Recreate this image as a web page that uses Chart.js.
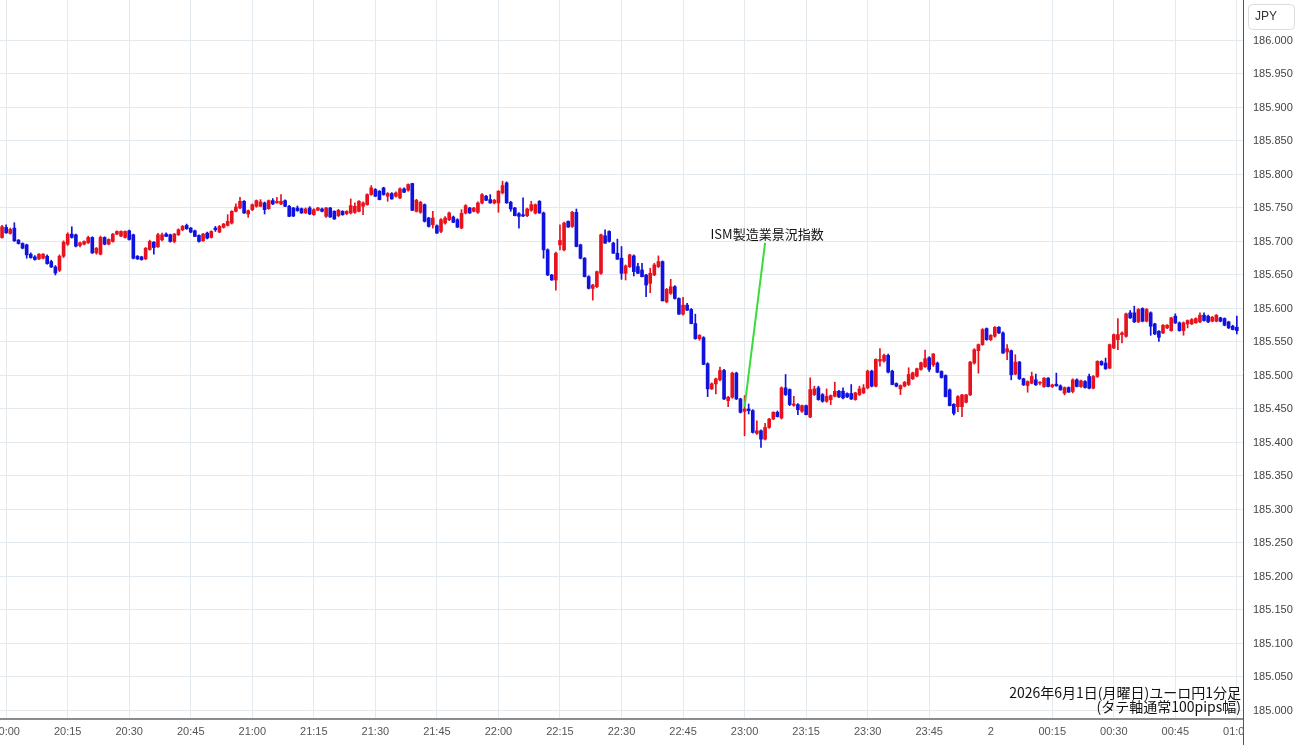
<!DOCTYPE html>
<html><head><meta charset="utf-8">
<script src="https://cdn.jsdelivr.net/npm/chart.js@4.4.1/dist/chart.umd.min.js"></script>
<style>html,body{margin:0;padding:0;background:#fff;overflow:hidden}canvas{display:block}</style>
</head><body>
<canvas id="c" width="1300" height="745"></canvas>
<script>
// ---- categories: 1-minute bars from 19:59 to 01:00 (+1 empty slot) ----
const firstMinute = 19 * 60 + 59;
const slotCount = 303;
const timeLabels = [];
for (let k = 0; k < slotCount; k++) {
  const m = (firstMinute + k) % 1440;
  timeLabels.push(String(Math.floor(m / 60)).padStart(2, '0') + ':' + String(m % 60).padStart(2, '0'));
}

// ---- OHLC series (EUR/JPY) ----
const openP = [
185.706,
185.721,185.712,185.720,185.702,185.697,185.695,185.681,185.677,185.674,185.675,
185.678,185.670,185.662,185.657,185.678,185.696,185.711,185.710,185.694,185.696,
185.698,185.706,185.683,185.681,185.706,185.696,185.700,185.711,185.708,185.706,
185.716,185.710,185.678,185.677,185.674,185.688,185.699,185.692,185.7025,185.711,
185.710,185.700,185.710,185.7175,185.724,185.720,185.716,185.709,185.701,185.7125,
185.706,185.720,185.714,185.721,185.724,185.7275,185.745,185.750,185.760,185.741,
185.7475,185.7525,185.7525,185.7575,185.749,185.761,185.7575,185.756,185.761,185.7525,
185.750,185.750,185.749,185.7425,185.750,185.740,185.7465,185.7485,185.7375,185.750,
185.745,185.7385,185.745,185.7415,185.7425,185.7435,185.745,185.7525,185.755,185.770,
185.7775,185.775,185.780,185.7675,185.7715,185.7675,185.765,185.7785,185.7765,185.7865,
185.745,185.7435,185.755,185.735,185.725,185.7235,185.715,185.7275,185.7325,185.7365,
185.7325,185.720,185.7425,185.750,185.745,185.7435,185.7575,185.7675,185.7625,185.7575,
185.7575,185.7725,185.7875,185.7585,185.750,185.7415,185.740,185.7385,185.7465,185.7425,
185.760,185.7425,185.6875,185.650,185.6425,185.695,185.6875,185.730,185.7225,185.7435,
185.695,185.675,185.6475,185.630,185.6325,185.6525,185.7085,185.715,185.6975,185.6825,
185.675,185.6525,185.6625,185.6785,185.6625,185.6575,185.650,185.6375,185.650,185.6625,
185.670,185.610,185.6225,185.6325,185.615,185.5915,185.605,185.5985,185.5775,185.555,
185.5565,185.5175,185.480,185.4875,185.4935,185.5075,185.4625,185.4675,185.5035,185.465,
185.4465,185.450,185.4475,185.4135,185.4175,185.405,185.4225,185.435,185.445,185.4365,
185.4815,185.479,185.4555,185.4565,185.4465,185.455,185.438,185.4715,185.4815,185.4715,
185.4615,185.464,185.469,185.4765,185.4765,185.473,185.473,185.464,185.4715,185.474,
185.4815,185.5065,185.484,185.5215,185.5215,185.530,185.5065,185.488,185.480,185.484,
185.4865,185.495,185.499,185.509,185.513,185.5265,185.516,185.5185,185.506,185.500,
185.4785,185.457,185.4535,185.4535,185.460,185.471,185.5185,185.537,185.546,185.570,
185.5535,185.5585,185.572,185.5635,185.535,185.537,185.502,185.520,185.495,185.485,
185.4885,185.4935,185.4885,185.4835,185.496,185.4835,185.487,185.4845,185.4735,185.482,
185.476,185.4935,185.4835,185.491,185.4985,185.481,185.4985,185.521,185.5185,185.511,
185.541,185.5535,185.561,185.5585,185.5935,185.5935,185.580,185.600,185.581,185.5935,
185.577,185.566,185.5635,185.571,185.567,185.5885,185.5785,185.567,185.577,185.577,
185.5785,185.580,185.590,185.5885,185.581,185.581,185.586,185.585,185.580,185.5735,
185.572
];
const highP = [
185.724,
185.725,185.720,185.728,185.703,185.698,185.696,185.683,185.679,185.682,185.682,
185.680,185.672,185.664,185.680,185.701,185.713,185.722,185.711,185.699,185.701,
185.708,185.707,185.691,185.708,185.707,185.704,185.712,185.716,185.716,185.716,
185.717,185.711,185.679,185.678,185.691,185.702,185.700,185.712,185.7125,185.713,
185.711,185.712,185.719,185.724,185.726,185.721,185.717,185.710,185.712,185.714,
185.716,185.7225,185.724,185.727,185.740,185.746,185.756,185.766,185.761,185.747,
185.756,185.762,185.7625,185.759,185.762,185.764,185.766,185.770,185.762,185.754,
185.751,185.753,185.750,185.750,185.752,185.749,185.751,185.750,185.751,185.751,
185.746,185.748,185.746,185.746,185.7635,185.7575,185.761,185.759,185.771,185.7835,
185.779,185.776,185.781,185.773,185.773,185.774,185.780,185.780,185.786,185.787,
185.763,185.760,185.756,185.736,185.745,185.725,185.734,185.737,185.744,185.738,
185.734,185.7475,185.755,185.751,185.751,185.759,185.7715,185.769,185.770,185.763,
185.776,185.790,185.789,185.760,185.751,185.743,185.765,185.750,185.760,185.756,
185.761,185.744,185.689,185.651,185.684,185.725,185.729,185.731,185.745,185.7485,
185.696,185.676,185.649,185.636,185.656,185.711,185.7175,185.716,185.699,185.7035,
185.6925,185.665,185.681,185.680,185.6675,185.6675,185.651,185.660,185.6675,185.6785,
185.671,185.630,185.6435,185.634,185.616,185.6165,185.6075,185.600,185.5915,185.561,
185.558,185.519,185.489,185.496,185.5125,185.509,185.469,185.505,185.505,185.466,
185.470,185.4575,185.449,185.4325,185.419,185.4285,185.436,185.446,185.447,185.483,
185.5015,185.480,185.469,185.458,185.456,185.456,185.4965,185.484,185.484,185.473,
185.480,185.471,185.490,185.478,185.4815,185.474,185.4865,185.475,185.484,185.4865,
185.508,185.508,185.525,185.540,185.532,185.532,185.508,185.489,185.486,185.491,
185.5115,185.505,185.511,185.520,185.538,185.528,185.533,185.520,185.507,185.501,
185.480,185.458,185.470,185.472,185.472,185.521,185.540,185.547,185.570,185.571,
185.561,185.573,185.573,185.565,185.546,185.538,185.531,185.521,185.496,185.492,
185.505,185.502,185.491,185.497,185.497,185.487,185.5035,185.486,185.483,185.483,
185.495,185.495,185.493,185.4925,185.502,185.500,185.522,185.522,185.526,185.547,
185.562,185.585,185.565,185.593,185.597,185.6035,185.600,185.601,185.600,185.595,
185.578,185.567,185.576,185.576,185.587,185.592,185.580,185.580,185.583,185.585,
185.586,185.5935,185.5935,185.590,185.588,185.591,185.587,185.586,185.581,185.575,
185.5885
];
const lowP = [
185.705,
185.712,185.711,185.700,185.696,185.689,185.675,185.675,185.672,185.673,185.674,
185.666,185.661,185.650,185.655,185.676,185.694,185.705,185.692,185.692,185.695,
185.697,185.682,185.681,185.680,185.695,185.695,185.699,185.710,185.707,185.705,
185.702,185.674,185.673,185.672,185.673,185.687,185.681,185.691,185.701,185.707,
185.699,185.698,185.709,185.716,185.718,185.713,185.707,185.699,185.700,185.704,
185.705,185.715,185.713,185.720,185.723,185.726,185.744,185.749,185.742,185.736,
185.746,185.751,185.752,185.741,185.748,185.755,185.757,185.755,185.752,185.737,
185.737,185.745,185.742,185.742,185.740,185.739,185.746,185.744,185.736,185.736,
185.733,185.737,185.739,185.740,185.741,185.742,185.744,185.740,185.754,185.769,
185.767,185.762,185.769,185.760,185.763,185.766,185.764,185.773,185.775,185.746,
185.744,185.742,185.729,185.7215,185.720,185.712,185.713,185.726,185.731,185.728,
185.7205,185.719,185.741,185.742,185.744,185.742,185.756,185.761,185.757,185.756,
185.7435,185.771,185.757,185.745,185.738,185.720,185.737,185.737,185.745,185.741,
185.742,185.675,185.649,185.642,185.6275,185.6875,185.686,185.721,185.721,185.692,
185.674,185.647,185.629,185.6125,185.631,185.651,185.697,185.699,185.682,185.673,
185.6435,185.6425,185.661,185.6485,185.652,185.647,185.6175,185.6235,185.649,185.661,
185.611,185.6085,185.621,185.614,185.591,185.590,185.597,185.577,185.554,185.5525,
185.516,185.4685,185.479,185.4725,185.492,185.464,185.4535,185.466,185.464,185.444,
185.410,185.4425,185.414,185.412,185.3925,185.404,185.421,185.434,185.438,185.435,
185.470,185.455,185.454,185.4415,185.445,185.441,185.437,185.470,185.463,185.460,
185.460,185.4565,185.468,185.467,185.465,185.467,185.464,185.463,185.470,185.473,
185.480,185.483,185.483,185.514,185.520,185.504,185.486,185.483,185.4715,185.483,
185.485,185.494,185.498,185.508,185.512,185.506,185.5135,185.504,185.496,185.468,
185.4545,185.441,185.446,185.4385,185.459,185.470,185.517,185.5035,185.545,185.5525,
185.552,185.557,185.5625,185.533,185.5235,185.4935,185.501,185.494,185.485,185.475,
185.4875,185.485,185.486,185.482,185.483,185.482,185.484,185.478,185.471,185.475,
185.474,185.483,185.482,185.481,185.480,185.480,185.497,185.515,185.509,185.510,
185.540,185.5385,185.5485,185.557,185.585,185.579,185.579,185.580,185.580,185.560,
185.561,185.551,185.5625,185.570,185.566,185.5775,185.566,185.560,185.571,185.576,
185.578,185.579,185.581,185.579,185.580,185.580,185.580,185.574,185.570,185.568,
185.562
];
const closeP = [
185.722,
185.713,185.718,185.701,185.697,185.690,185.680,185.676,185.673,185.681,185.681,
185.667,185.662,185.653,185.678,185.699,185.711,185.706,185.693,185.698,185.700,
185.706,185.683,185.690,185.706,185.696,185.703,185.711,185.715,185.715,185.715,
185.703,185.675,185.674,185.673,185.690,185.700,185.691,185.710,185.710,185.7075,
185.700,185.711,185.7175,185.7225,185.719,185.714,185.7075,185.700,185.711,185.705,
185.715,185.7175,185.7225,185.726,185.730,185.745,185.7515,185.760,185.7425,185.746,
185.755,185.761,185.759,185.7475,185.761,185.756,185.760,185.760,185.7525,185.7375,
185.738,185.746,185.7425,185.7485,185.741,185.7475,185.750,185.745,185.750,185.7365,
185.7335,185.7465,185.740,185.745,185.7535,185.7525,185.760,185.7575,185.770,185.780,
185.7675,185.7625,185.770,185.7715,185.7635,185.7725,185.7785,185.7735,185.785,185.7465,
185.7615,185.7585,185.730,185.7225,185.735,185.7125,185.7325,185.735,185.7425,185.7285,
185.7215,185.742,185.7535,185.7425,185.750,185.7575,185.770,185.7615,185.7575,185.7615,
185.775,185.7835,185.7575,185.7485,185.7385,185.7375,185.738,185.7485,185.755,185.755,
185.7425,185.6875,185.650,185.6425,185.6825,185.7015,185.7275,185.7215,185.7435,185.6925,
185.675,185.6475,185.630,185.635,185.655,185.710,185.6975,185.700,185.6825,185.6735,
185.6525,185.6635,185.680,185.655,185.6525,185.6475,185.635,185.6525,185.665,185.670,
185.6115,185.6285,185.6325,185.615,185.5915,185.605,185.5975,185.5775,185.555,185.560,
185.5165,185.480,185.4875,185.495,185.5075,185.465,185.4675,185.5035,185.465,185.445,
185.450,185.4475,185.415,185.4175,185.405,185.4225,185.435,185.445,185.4385,185.4815,
185.4715,185.4565,185.4575,185.449,185.455,185.4415,185.479,185.480,185.464,185.4615,
185.469,185.470,185.4765,185.468,185.4665,185.468,185.465,185.474,185.480,185.4815,
185.5065,185.484,185.524,185.524,185.530,185.505,185.4865,185.484,185.485,185.490,
185.5015,185.504,185.510,185.519,185.525,185.509,185.532,185.505,185.497,185.4685,
185.455,185.4435,185.4685,185.471,185.471,185.520,185.5385,185.546,185.5685,185.5535,
185.560,185.572,185.5635,185.5335,185.540,185.501,185.520,185.495,185.486,185.491,
185.4985,185.486,185.489,185.496,185.4835,185.486,185.4845,185.4785,185.482,185.475,
185.4935,185.4835,185.492,185.482,185.481,185.4985,185.521,185.516,185.510,185.546,
185.561,185.561,185.5635,185.592,185.586,185.580,185.5985,185.581,185.5985,185.5735,
185.562,185.557,185.575,185.575,185.586,185.5785,185.567,185.5785,185.582,185.5835,
185.585,185.590,185.582,185.580,185.587,185.590,185.581,185.575,185.571,185.5685,
185.567
];

// ---- axis ticks ----
const yTickValues = [186.000,185.950,185.900,185.850,185.800,185.750,185.700,185.650,185.600,185.550,
  185.500,185.450,185.400,185.350,185.300,185.250,185.200,185.150,185.100,185.050,185.000];
const yMin = 184.9873, yMax = 186.0604;
const dayChangeLabel = { '00:00': '2' };

// ---- annotation ----
const annoText = 'ISM製造業景況指数';
const annoTimes = ['23:00', '23:05'];
const annoPrices = [185.453, 185.698];
const noteLines = ['2026年6月1日(月曜日)ユーロ円1分足', '(タテ軸通常100pips幅)'];
const unitLabel = 'JPY';

const UP = '#e8121c', DOWN = '#1212de', GRID = '#e2e9ef';
const candleColor = c => (closeP[c.dataIndex] >= openP[c.dataIndex] ? UP : DOWN);
const isQuarter = lbl => lbl && parseInt(lbl.slice(3), 10) % 15 === 0;

if (openP.length !== highP.length || openP.length !== lowP.length || openP.length !== closeP.length)
  console.error('length mismatch', openP.length, highP.length, lowP.length, closeP.length);

const bodies = openP.map((o, i) => [o, closeP[i]]);
const wicks = lowP.map((l, i) => [l, highP[i]]);

const decor = {
  id: 'decor',
  afterDraw(chart) {
    const ctx = chart.ctx, ca = chart.chartArea, xs = chart.scales.x, ys = chart.scales.y;
    ctx.save();
    ctx.fillStyle = '#fff';
    ctx.fillRect(ca.right + 1, ca.bottom + 1, chart.width - ca.right, chart.height - ca.bottom);
    ctx.strokeStyle = '#555'; ctx.lineWidth = 1;
    ctx.beginPath(); ctx.moveTo(Math.round(ca.right) + 0.5, 0); ctx.lineTo(Math.round(ca.right) + 0.5, chart.height); ctx.stroke();
    // unit box
    ctx.strokeStyle = '#dcdcdc';
    ctx.beginPath(); ctx.roundRect(1248.5, 4.5, 46, 25, 4); ctx.stroke();
    ctx.fillStyle = '#333'; ctx.font = '12px "Liberation Sans", Arial, sans-serif';
    ctx.textAlign = 'center'; ctx.textBaseline = 'middle';
    ctx.fillText(unitLabel, 1266, 17);
    // annotation line and label
    const labels = xs.getLabels();
    const x1 = xs.getPixelForValue(labels.indexOf(annoTimes[0]));
    const x2 = xs.getPixelForValue(labels.indexOf(annoTimes[1]));
    const y1 = ys.getPixelForValue(annoPrices[0]);
    const y2 = ys.getPixelForValue(annoPrices[1]);
    ctx.strokeStyle = '#39dc39'; ctx.lineWidth = 2;
    ctx.beginPath(); ctx.moveTo(x1, y1); ctx.lineTo(x2, y2); ctx.stroke();
    ctx.fillStyle = '#111'; ctx.font = '13px "Noto Sans CJK JP", sans-serif';
    ctx.textAlign = 'center'; ctx.textBaseline = 'middle';
    ctx.fillText(annoText, x2 + 2, y2 - 9);
    // note
    ctx.font = '14px "Noto Sans CJK JP", sans-serif';
    ctx.textAlign = 'right';
    ctx.fillText(noteLines[0], ca.right - 2, 693);
    ctx.fillText(noteLines[1], ca.right - 2, 707);
    ctx.restore();
  }
};

Chart.defaults.font.family = '"Liberation Sans", Arial, sans-serif';
new Chart(document.getElementById('c'), {
  type: 'bar',
  data: {
    labels: timeLabels,
    datasets: [
      { label: 'body', data: bodies, backgroundColor: candleColor, barThickness: 3, grouped: false, minBarLength: 1, borderWidth: 0 },
      { label: 'wick', data: wicks, backgroundColor: candleColor, barThickness: 1, grouped: false, borderWidth: 0 }
    ]
  },
  options: {
    responsive: false, animation: false, devicePixelRatio: 1,
    layout: { padding: 0 },
    plugins: { legend: { display: false }, tooltip: { enabled: false } },
    scales: {
      x: {
        type: 'category', offset: true,
        grid: { offset: false, drawTicks: false, color: c => (c.tick && isQuarter(c.tick.label) ? GRID : 'rgba(0,0,0,0)') },
        border: { color: '#8c8c8c', width: 2 },
        ticks: {
          autoSkip: false, maxRotation: 0, minRotation: 0, padding: 6, color: '#555', font: { size: 11 },
          callback: function (v) { const l = this.getLabelForValue(v); return isQuarter(l) ? (dayChangeLabel[l] || l) : ''; }
        },
        afterFit: s => { s.height = 26; s.paddingLeft = 0; s.paddingRight = 0; }
      },
      y: {
        position: 'right', min: yMin, max: yMax,
        afterBuildTicks: s => { s.ticks = yTickValues.map(v => ({ value: v })); },
        grid: { drawTicks: false, color: GRID },
        border: { display: false },
        ticks: { padding: 10, color: '#444', font: { size: 11 }, callback: v => Number(v).toFixed(3) },
        afterFit: s => { s.width = 57; s.paddingTop = 0; s.paddingBottom = 0; }
      }
    }
  },
  plugins: [decor]
});
</script>
</body></html>
